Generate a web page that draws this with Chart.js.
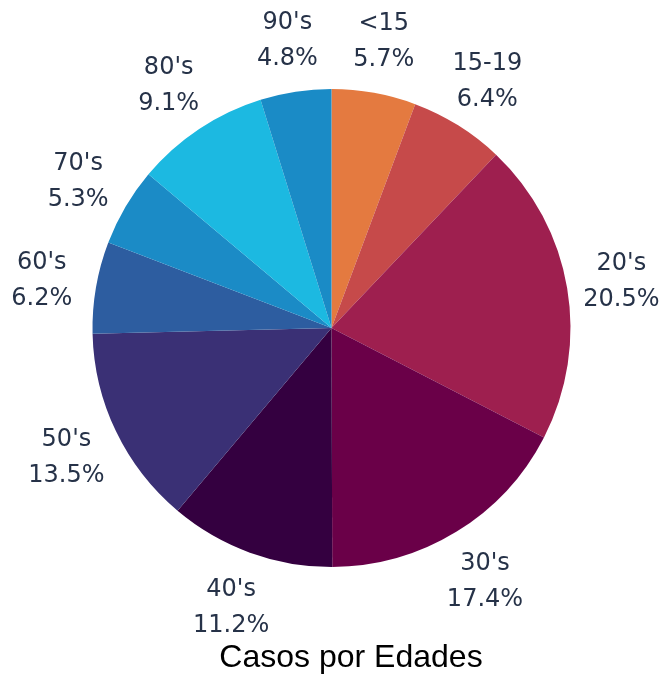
<!DOCTYPE html>
<html><head><meta charset="utf-8">
<script src="https://cdn.jsdelivr.net/npm/chart.js@4/dist/chart.umd.min.js"></script>
<style>html,body{margin:0;padding:0;background:#fff}#wrap{width:663px;height:677px;position:relative}</style>
</head><body><div id="wrap"><canvas id="c" width="663" height="677"></canvas></div>
<script>
const categories = ["<15","15-19","20's","30's","40's","50's","60's","70's","80's","90's"];
const percentages = [5.7, 6.4, 20.5, 17.4, 11.2, 13.5, 6.2, 5.3, 9.1, 4.8];
const sliceColors = ["#E47A40","#C64A4A","#9E1F4F","#6A0048","#340040","#3A3075","#2D5DA0","#1B8BC6","#1CB9E1","#1A8BC6"];
const chartTitle = "Casos por Edades";

const labelPlugin = {
  id: 'outerLabels',
  afterDatasetsDraw(chart) {
    const ctx = chart.ctx;
    const meta = chart.getDatasetMeta(0);
    ctx.save();
    ctx.font = '24px "DejaVu Sans"';
    ctx.fillStyle = '#263248';
    ctx.textAlign = 'center';
    ctx.textBaseline = 'middle';
    meta.data.forEach((arc, i) => {
      const p = arc.getProps(['x','y','startAngle','endAngle','outerRadius'], true);
      const mid = (p.startAngle + p.endAngle) / 2;
      const r = p.outerRadius + 55;
      const x = p.x + Math.cos(mid) * r;
      const y = p.y + Math.sin(mid) * r + 3;
      ctx.fillText(categories[i], x, y - 18);
      ctx.fillText(percentages[i].toFixed(1) + '%', x, y + 18);
    });
    ctx.restore();
  }
};
const titlePlugin = {
  id: 'bottomTitle',
  afterDraw(chart) {
    const ctx = chart.ctx;
    ctx.save();
    ctx.font = '32px "Liberation Sans", Arial, sans-serif';
    ctx.fillStyle = '#000';
    ctx.textAlign = 'center';
    ctx.textBaseline = 'alphabetic';
    ctx.fillText(chartTitle, 351, 667);
    ctx.restore();
  }
};

new Chart(document.getElementById('c'), {
  type: 'pie',
  data: {
    labels: categories,
    datasets: [{ data: percentages, backgroundColor: sliceColors, borderWidth: 0 }]
  },
  options: {
    responsive: false,
    animation: false,
    layout: { padding: { left: 92, right: 92, top: 89, bottom: 110 } },
    plugins: { legend: { display: false }, tooltip: { enabled: false }, title: { display: false } }
  },
  plugins: [labelPlugin, titlePlugin]
});
</script></body></html>
